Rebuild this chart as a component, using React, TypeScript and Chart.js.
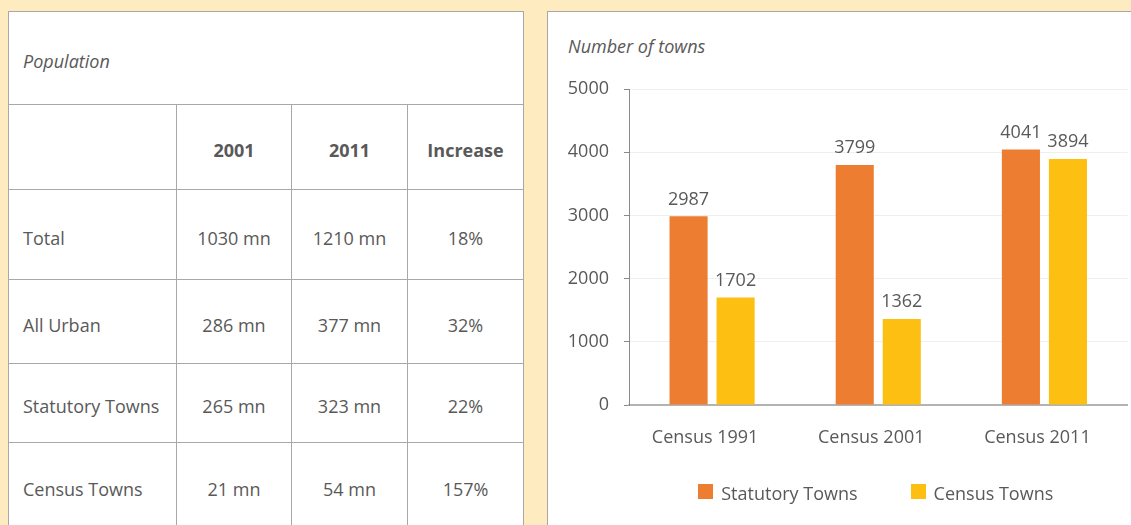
import React, { useEffect, useRef } from "react";
import { Chart, registerables } from "chart.js";

Chart.register(...registerables);

// ---------- data ----------
const categories = ["Census 1991", "Census 2001", "Census 2011"];
const seriesNames = ["Statutory Towns", "Census Towns"];
const statutoryTowns = [2987, 3799, 4041];
const censusTowns = [1702, 1362, 3894];
const yMin = 0;
const yMax = 5000;
const yStep = 1000;
const chartTitle = "Number of towns";

const tableTitle = "Population";
const tableHeader = ["", "2001", "2011", "Increase"];
const tableRowLabels = ["Total", "All Urban", "Statutory Towns", "Census Towns"];
const pop2001 = ["1030 mn", "286 mn", "265 mn", "21 mn"];
const pop2011 = ["1210 mn", "377 mn", "323 mn", "54 mn"];
const popIncrease = ["18%", "32%", "22%", "157%"];

// ---------- styles ----------
const FONT = "'Open Sans', sans-serif";
const TEXT = "#595959";
const LINE = "#a8a8a8";
const BG = "#FFEBC0";
const ORANGE = "#ED7D31";
const GOLD = "#FDBF12";

const rowHeights = [93, 85, 90, 84, 79, 87];
const colWidths = [168, 115, 116, 116];

const valueLabelPlugin = {
  id: "valueLabels",
  afterDatasetsDraw(chart: any) {
    const { ctx } = chart;
    ctx.save();
    ctx.font = `18px ${FONT}`;
    ctx.fillStyle = TEXT;
    ctx.textAlign = "center";
    ctx.textBaseline = "alphabetic";
    chart.data.datasets.forEach((ds: any, di: number) => {
      const meta = chart.getDatasetMeta(di);
      meta.data.forEach((bar: any, i: number) => {
        ctx.fillText(String(ds.data[i]), bar.x, bar.y - 11.5);
      });
    });
    ctx.restore();
  },
};

const legendPlugin = {
  id: "bottomLegend",
  afterDraw(chart: any) {
    const { ctx, chartArea } = chart;
    ctx.save();
    ctx.font = `18px ${FONT}`;
    const box = 15;
    const gap = 8;
    const itemGap = 53;
    const items = chart.data.datasets.map((d: any) => ({
      label: d.label,
      color: d.backgroundColor,
      w: box + gap + ctx.measureText(d.label).width,
    }));
    const total =
      items.reduce((s: number, it: any) => s + it.w, 0) + itemGap * (items.length - 1);
    let x = (chartArea.left + chartArea.right) / 2 - 2.5 - total / 2;
    const boxTop = chartArea.bottom + 79;
    const baseline = chartArea.bottom + 95;
    items.forEach((it: any) => {
      ctx.fillStyle = it.color;
      ctx.fillRect(Math.round(x), boxTop, box, box);
      ctx.fillStyle = TEXT;
      ctx.textAlign = "left";
      ctx.textBaseline = "alphabetic";
      ctx.fillText(it.label, x + box + gap, baseline);
      x += it.w + itemGap;
    });
    ctx.restore();
  },
};

function TownsChart() {
  const ref = useRef<HTMLCanvasElement | null>(null);
  useEffect(() => {
    if (!ref.current) return;
    const chart = new Chart(ref.current, {
      type: "bar",
      data: {
        labels: categories,
        datasets: [
          {
            label: seriesNames[0],
            data: statutoryTowns,
            backgroundColor: ORANGE,
            categoryPercentage: 0.566,
            barPercentage: 0.81,
          },
          {
            label: seriesNames[1],
            data: censusTowns,
            backgroundColor: GOLD,
            categoryPercentage: 0.566,
            barPercentage: 0.81,
          },
        ],
      },
      options: {
        responsive: false,
        animation: false,
        layout: { padding: { top: 77, right: 3.5, bottom: 80, left: 0 } },
        plugins: {
          legend: { display: false },
          tooltip: { enabled: false },
          title: { display: false },
        },
        scales: {
          x: {
            grid: { display: true, color: "transparent", drawTicks: false },
            border: { display: true, color: "#b3b3b3", width: 2 },
            ticks: {
              font: { family: FONT, size: 18 },
              color: TEXT,
              padding: 22,
              labelOffset: -7,
            },
            afterFit: (scale: any) => {
              scale.height = 40;
            },
          },
          y: {
            min: yMin,
            max: yMax,
            grid: { color: "#efefef", tickColor: "#8a8a8a", tickLength: 5 },
            border: { display: true, color: "#8a8a8a", width: 1 },
            ticks: {
              stepSize: yStep,
              font: { family: FONT, size: 18 },
              color: TEXT,
              padding: 15,
              callback: (v: any) => String(v),
            },
            afterFit: (scale: any) => {
              scale.width = 81;
            },
          },
        },
      },
      plugins: [valueLabelPlugin, legendPlugin],
    });
    return () => chart.destroy();
  }, []);
  return (
    <canvas
      ref={ref}
      width={583}
      height={513}
      style={{ position: "absolute", left: 0, top: 0, width: 583, height: 513 }}
    />
  );
}

const cellBase: React.CSSProperties = {
  border: `1px solid ${LINE}`,
  padding: "6px 0 0 0",
  verticalAlign: "middle",
  textAlign: "center",
  color: TEXT,
  fontSize: 18,
  fontFamily: FONT,
};

export default function App() {
  return (
    <div
      style={{
        position: "absolute",
        left: 0,
        top: 0,
        width: 1131,
        height: 525,
        background: BG,
        overflow: "hidden",
        fontFamily: FONT,
      }}
    >
      <table
        style={{
          position: "absolute",
          left: 8,
          top: 11,
          width: 516,
          borderCollapse: "collapse",
          tableLayout: "fixed",
          background: "#fff",
        }}
      >
        <colgroup>
          {colWidths.map((w, i) => (
            <col key={i} style={{ width: w }} />
          ))}
        </colgroup>
        <tbody>
          <tr style={{ height: rowHeights[0] }}>
            <td
              colSpan={4}
              style={{ ...cellBase, textAlign: "left", paddingLeft: 14, fontStyle: "italic" }}
            >
              {tableTitle}
            </td>
          </tr>
          <tr style={{ height: rowHeights[1] }}>
            {tableHeader.map((h, i) => (
              <td key={i} style={{ ...cellBase, fontWeight: 700 }}>
                {h}
              </td>
            ))}
          </tr>
          {tableRowLabels.map((label, r) => (
            <tr key={r} style={{ height: rowHeights[r + 2] }}>
              <td style={{ ...cellBase, textAlign: "left", paddingLeft: 14 }}>{label}</td>
              <td style={cellBase}>{pop2001[r]}</td>
              <td style={cellBase}>{pop2011[r]}</td>
              <td style={cellBase}>{popIncrease[r]}</td>
            </tr>
          ))}
        </tbody>
      </table>

      <div
        style={{
          position: "absolute",
          left: 547,
          top: 11,
          width: 700,
          height: 600,
          background: "#fff",
          borderTop: `1px solid ${LINE}`,
          borderLeft: `1px solid ${LINE}`,
        }}
      >
        <div
          style={{
            position: "absolute",
            left: 20,
            top: 25,
            fontStyle: "italic",
            fontSize: 18,
            lineHeight: "18px",
            color: TEXT,
            whiteSpace: "nowrap",
          }}
        >
          {chartTitle}
        </div>
        <TownsChart />
      </div>
    </div>
  );
}
